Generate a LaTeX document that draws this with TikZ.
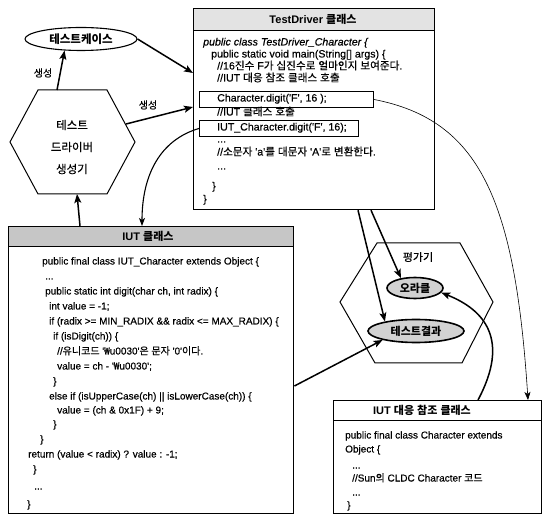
\documentclass[tikz,border=0pt]{standalone}
\usepackage{fontspec}
\setmainfont{Liberation Sans}[Ligatures=TeXOff, UprightFeatures={FakeBold=0.4}, ItalicFeatures={FakeBold=0.4}]
\newfontfamily\kr{Noto Sans CJK KR}[Ligatures=TeXOff, UprightFeatures={FakeBold=0.4}]
\newcommand\K[1]{{\kr #1}}
\usetikzlibrary{arrows.meta,shapes.geometric}
\begin{document}
\begin{tikzpicture}[x=1pt,y=-1pt,
  box/.style={draw, inner sep=0pt, anchor=north west},
  band/.style={inner sep=0pt, anchor=north west},
  txt/.style={anchor=west, inner sep=0pt, text height=7pt, text depth=2pt},
  tdc/.style={txt, font=\fontsize{10.6}{12}\selectfont},
  iuc/.style={txt, font=\fontsize{10}{12}\selectfont},
  rfc/.style={txt, font=\fontsize{10}{12}\selectfont},
  ttl/.style={inner sep=0pt, font=\fontsize{11}{13}\selectfont\bfseries},
  hexline/.style={line width=1pt, line join=miter},
  oval/.style={ellipse, draw, line width=1.1pt, fill=white, inner sep=0pt},
  ovalg/.style={ellipse, draw, line width=1.6pt, fill=gray!35, inner sep=0pt, font=\fontsize{11}{13}\selectfont\bfseries},
  lbl/.style={inner sep=0pt, font=\kr\fontsize{10}{12}\selectfont},
  conn/.style={line width=1.5pt, -{Stealth[length=9pt,width=7pt,inset=2pt]}},
  mconn/.style={line width=1.1pt, -{Stealth[length=8pt,width=6pt,inset=2pt]}},
  tconn/.style={line width=0.6pt, -{Stealth[length=8pt,width=6pt,inset=2pt]}}
]
\path[use as bounding box, fill=white] (0,0) rectangle (546,518);

% ---------- TestDriver box ----------
\node[band, fill=gray!22, minimum width=241pt, minimum height=22pt] (tdh) at (193,8) {};
\node[box, line width=1.2pt, minimum width=241pt, minimum height=201pt] (td) at (193,8) {};
\draw[line width=0.8pt] (tdh.south west) -- (tdh.south east);
\node[ttl] (tdt) at (313,19) {TestDriver \K{클래스}};
\node[box, line width=0.9pt, minimum width=174pt, minimum height=16pt] (cbox) at (199,91) {};
\node[box, line width=0.9pt, minimum width=159pt, minimum height=16pt] (ibox) at (199,120) {};
\node[tdc] (t1) at (203,43) {\itshape public class TestDriver\_Character \{};
\node[tdc] (t2) at (211,55) {public static void main(String[] args) \{};
\node[tdc] (t3) at (217,67) {//16\K{진수} F\K{가} \K{십진수로} \K{얼마인지} \K{보여준다}.};
\node[tdc] (t4) at (217,79) {//IUT \K{대응} \K{참조} \K{클래스} \K{호출}};
\node[tdc] (t5) at (217,99) {Character.digit('F', 16 );};
\node[tdc] (t6) at (217,113) {//IUT \K{클래스} \K{호출}};
\node[tdc] (t7) at (217,128) {IUT\_Character.digit('F', 16);};
\node[tdc] (t8) at (217,140) {...};
\node[tdc] (t9) at (217,153) {//\K{소문자} 'a'\K{를} \K{대문자} 'A'\K{로} \K{변환한다}.};
\node[tdc] (t10) at (217,167) {...};
\node[tdc] (t11) at (212,187) {\}};
\node[tdc] (t12) at (203,200) {\}};

% ---------- test case ellipse ----------
\node[oval, minimum width=112pt, minimum height=23pt, font=\fontsize{11.5}{13}\selectfont\bfseries] (tc) at (81,39) {\K{테스트케이스}};

% ---------- generator hexagon ----------
\draw[hexline] (10,142) -- (38,90) -- (107,90) -- (135,142) -- (107,194) -- (38,194) -- cycle;
\coordinate (gentop) at (57,90);
\coordinate (genright) at (126,124);
\coordinate (genbot) at (77,194);
\node[inner sep=0pt, align=center, font=\kr\fontsize{11.5}{22}\selectfont] (gen) at (72,147) {테스트\\드라이버\\생성기};
\node[lbl] (s1) at (43,73) {생성};
\node[lbl] (s2) at (148,105) {생성};

% ---------- IUT class box ----------
\node[band, fill=gray!45, minimum width=285pt, minimum height=20pt] (iuh) at (8,226) {};
\node[box, line width=1.4pt, minimum width=285pt, minimum height=287pt] (iut) at (8,226) {};
\draw[line width=0.8pt] (iuh.south west) -- (iuh.south east);
\node[ttl] (iutt) at (148,236) {IUT \K{클래스}};
\node[iuc] (l1) at (42,262) {public final class IUT\_Character extends Object \{};
\node[iuc] (l2) at (45,277) {...};
\node[iuc] (l3) at (45,292) {public static int digit(char ch, int radix) \{};
\node[iuc] (l4) at (49,307) {int value = -1;};
\node[iuc] (l5) at (49,322) {if (radix >= MIN\_RADIX \&\& radix <= MAX\_RADIX) \{};
\node[iuc] (l6) at (53,337) {if (isDigit(ch)) \{};
\node[iuc] (l7) at (57,352) {//\K{유니코드} '\K{₩}u0030'\K{은} \K{문자} '0'\K{이다}.};
\node[iuc] (l8) at (57,367) {value = ch - '\K{₩}u0030';};
\node[iuc] (l9) at (53,382) {\}};
\node[iuc] (l10) at (49,397) {else if (isUpperCase(ch) || isLowerCase(ch)) \{};
\node[iuc] (l11) at (57,411) {value = (ch \& 0x1F) + 9;};
\node[iuc] (l12) at (53,425) {\}};
\node[iuc] (l13) at (40,440) {\}};
\node[iuc] (l14) at (28,455) {return (value < radix) ? value : -1;};
\node[iuc] (l15) at (33,470) {\}};
\node[iuc] (l16) at (34,487) {...};
\node[iuc] (l17) at (27,505) {\}};

% ---------- evaluator hexagon ----------
\draw[hexline] (340,302) -- (377,243) -- (460,243) -- (493,302) -- (462,363) -- (375,363) -- cycle;
\node[inner sep=0pt, font=\kr\fontsize{11}{13}\selectfont] (ev) at (418,257) {평가기};
\node[ovalg, minimum width=56pt, minimum height=21pt] (ok) at (415,288) {\K{오라클}};
\node[ovalg, minimum width=96pt, minimum height=23pt] (res) at (416,331) {\K{테스트결과}};

% ---------- reference class box ----------
\node[box, line width=1.1pt, minimum width=208pt, minimum height=113pt] (ref) at (333,400) {};
\draw[line width=0.8pt] ([yshift=-20pt]ref.north west) -- ([yshift=-20pt]ref.north east);
\node[ttl] (reft) at (422,410) {IUT \K{대응} \K{참조} \K{클래스}};
\node[rfc] (r1) at (345,436) {public final class Character extends};
\node[rfc] (r2) at (345,450) {Object \{};
\node[rfc] (r3) at (352,466) {...};
\node[rfc] (r4) at (352,479) {//Sun\K{의} CLDC Character \K{코드}};
\node[rfc] (r5) at (352,493) {...};
\node[rfc] (r6) at (347,506) {\}};

% ---------- connectors ----------
\draw[conn] (gentop) -- (tc.215);
\draw[conn] (genright) -- ([yshift=-99pt]td.north west);
\draw[conn] (tc.east) -- ([yshift=-65pt]td.north west);
\draw[conn] ([xshift=72pt]iut.north west) -- (genbot);
\draw[mconn] (ibox.west) .. controls (160,140) and (142,175) .. ([xshift=134pt]iut.north west);
\draw[conn] ([xshift=165pt]td.south west) -- (res.163);
\draw[conn] ([xshift=178pt]td.south west) -- (ok.145);
\draw[conn] ([yshift=-160pt]iut.north east) -- (res.195);
\draw[conn] ([xshift=145pt]ref.north west) .. controls (510,340) and (485,310) .. (ok.-10);
\draw[tconn] (cbox.east) .. controls (480,120) and (515,200) .. ([xshift=195pt]ref.north west);
\end{tikzpicture}
\end{document}
